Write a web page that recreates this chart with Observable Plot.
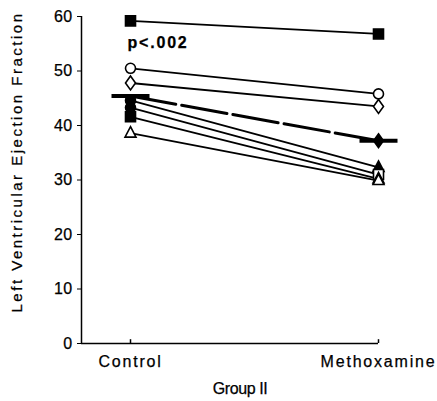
<!DOCTYPE html>
<html>
<head>
<meta charset="utf-8">
<script src="https://cdn.jsdelivr.net/npm/d3@7"></script>
<script src="https://cdn.jsdelivr.net/npm/@observablehq/plot@0.6"></script>
<style>
  html, body { margin: 0; padding: 0; background: #fff; }
  svg { display: block; }
  svg text { stroke: #000; stroke-width: 0.25px; }
</style>
</head>
<body>
<div id="chart"></div>
<script>
// ---- data ----
const groups = ["Control", "Methoxamine"];
const groupPos = [0, 1];
const controlValues = [59.2, 50.5, 47.8, 44.6, 43.3, 41.6, 38.6];
const methoxValues  = [56.8, 45.8, 43.5, 32.3, 31.0, 30.2, 29.9];
const controlSymbols = ["square", "circle", "diamond", "circle", "circle", "square", "triangle"];
const controlFilled  = [true, false, false, true, true, true, false];
const methoxSymbols  = ["square", "circle", "diamond", "triangle", "square", "triangle", "triangle"];
const methoxFilled   = [true, false, false, true, false, false, false];
const meanValues = [45.4, 37.2];
const yTicks = [0, 10, 20, 30, 40, 50, 60];
const pText = "p<.002";
const xTitle = "Group II";
const yTitle = "Left Ventricular Ejection Fraction";

// ---- build tables ----
const lines = [];
controlValues.forEach((v, i) => {
  lines.push({id: i, g: 0, v});
  lines.push({id: i, g: 1, v: methoxValues[i]});
});
const pts = [];
controlValues.forEach((v, i) => pts.push({g: 0, v, s: controlSymbols[i], f: controlFilled[i]}));
methoxValues.forEach((v, i) => pts.push({g: 1, v, s: methoxSymbols[i], f: methoxFilled[i]}));
const means = meanValues.map((v, i) => ({g: groupPos[i], v}));

const bar = {draw(ctx) { ctx.rect(-19, -2, 38, 4); }};
const symMap = {
  square: {draw(ctx) { ctx.rect(-5, -5, 10, 10); }},
  circle: "circle",
  diamond: {draw(ctx) { ctx.moveTo(0, -7); ctx.lineTo(5, 0); ctx.lineTo(0, 7); ctx.lineTo(-5, 0); ctx.closePath(); }},
  triangle: {draw(ctx) { ctx.moveTo(0, -6.5); ctx.lineTo(5.5, 4); ctx.lineTo(-5.5, 4); ctx.closePath(); }}
};

const font = "'Liberation Sans', Arial, Helvetica, sans-serif";

const chart = Plot.plot({
  width: 437,
  height: 401,
  marginLeft: 81,
  marginRight: 59,
  marginTop: 16,
  marginBottom: 58,
  style: {fontFamily: font, fontSize: "15px", color: "#000", background: "#fff"},
  x: {domain: [-0.1976, 1]},
  y: {domain: [0, 60]},
  marks: [
    Plot.axisY({ticks: yTicks, tickSize: 4, tickPadding: 5, fontSize: 16, label: null}),
    Plot.axisX({ticks: groupPos, tickFormat: i => groups[i], tickSize: 0, tickPadding: 12,
      fontSize: 16, label: null}),
    Plot.ruleY([0], {strokeWidth: 1.5}),
    Plot.ruleX([-0.1976], {strokeWidth: 1.5}),
    Plot.ruleX(groupPos, {y1: 0, y2: 0.7, strokeWidth: 1.5}),
    Plot.line(lines, {x: "g", y: "v", z: "id", stroke: "#000", strokeWidth: 1.8}),
    Plot.line(means, {x: "g", y: "v", stroke: "#000", strokeWidth: 3, strokeDasharray: "46,6"}),
    Plot.dot(means, {x: "g", y: "v", symbol: () => bar, r: 1, fill: "#000", stroke: "none"}),
    Plot.dot(pts, {x: "g", y: "v", symbol: d => symMap[d.s], r: 5,
      fill: d => d.f ? "#000" : "#fff", stroke: "#000", strokeWidth: 1.6}),
    Plot.dot([means[1]], {x: "g", y: "v", symbol: () => symMap.diamond, r: 1, fill: "#000", stroke: "#000", strokeWidth: 1.5}),
    Plot.text([pText], {frameAnchor: "top-left", dx: 46, dy: 26, lineAnchor: "middle", textAnchor: "start",
      fontWeight: "bold", fontSize: 16}),
    Plot.text([xTitle], {frameAnchor: "bottom", dx: 10, dy: 45, lineAnchor: "middle", fontSize: 16}),
    Plot.text([yTitle], {frameAnchor: "left", dx: -64, dy: -18, rotate: -90, textAnchor: "middle",
      lineAnchor: "middle", fontSize: 15})
  ]
});
// loose tracking like the original typesetting
d3.select(chart).selectAll("text").each(function() {
  const t = d3.select(this).text();
  let ls = 1.8;
  if (/^\d+$/.test(t)) ls = 0.3;
  if (t === xTitle) ls = -0.4;
  if (t === yTitle) ls = 2.5;
  d3.select(this).style("letter-spacing", ls + "px");
});
document.getElementById("chart").appendChild(chart);
</script>
</body>
</html>
